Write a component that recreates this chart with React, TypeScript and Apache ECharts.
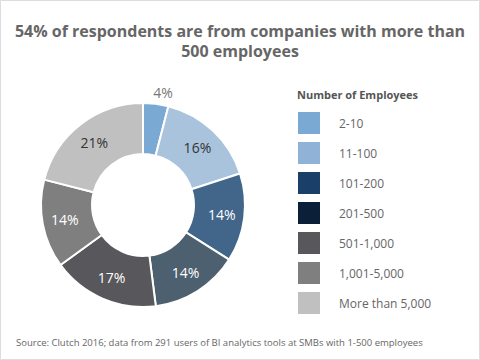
import React, { useEffect, useRef } from "react";
import * as echarts from "echarts";

const categories = ["2-10", "11-100", "101-200", "201-500", "501-1,000", "1,001-5,000", "More than 5,000"];
const values = [4, 16, 14, 14, 17, 14, 21];
const sliceColors = ["#7aa9d4", "#a9c3dc", "#42668a", "#4d6070", "#58575b", "#7f7f7f", "#c0c0c0"];
const legendColors = ["#7aa9d4", "#8fb2d6", "#1a3f69", "#0b1f38", "#58575c", "#7f7f7f", "#c0c0c0"];
const labelColors = ["#777777", "#333333", "#ffffff", "#ffffff", "#ffffff", "#ffffff", "#333333"];

const FONT = "'Open Sans', sans-serif";

export default function App() {
  const ref = useRef<HTMLDivElement>(null);
  useEffect(() => {
    document.body.style.margin = "0";
    const chart = echarts.init(ref.current!, null, { renderer: "svg" });
    chart.setOption({
      animation: false,
      backgroundColor: "#ffffff",
      title: [
        {
          text: "54% of respondents are from companies with more than\n500 employees",
          left: 240,
          top: 21,
          padding: 0,
          textAlign: "center",
          textStyle: { fontFamily: FONT, fontSize: 16, fontWeight: "bold", color: "#666666", lineHeight: 20 },
        },
        {
          text: "Number of Employees",
          left: 297,
          top: 89,
          padding: 0,
          textStyle: { fontFamily: FONT, fontSize: 11, fontWeight: "bold", color: "#555555" },
        },
        {
          text: "Source: Clutch 2016; data from 291 users of BI analytics tools at SMBs with 1-500 employees",
          left: 16,
          top: 337,
          padding: 0,
          textStyle: { fontFamily: FONT, fontSize: 9.5, fontWeight: "normal", color: "#666666" },
        },
      ],
      graphic: [
        {
          type: "rect",
          shape: { x: 0.5, y: 0.5, width: 479, height: 359 },
          style: { fill: "none", stroke: "#dddddd", lineWidth: 1 },
          silent: true,
        },
      ],
      legend: {
        orient: "vertical",
        left: 296,
        top: 110,
        padding: 0,
        itemWidth: 24,
        itemHeight: 24,
        itemGap: 4,
        icon: "rect",
        selectedMode: false,
        textStyle: { fontFamily: FONT, fontSize: 12, color: "#666666", padding: [0, 0, 0, 13] },
        data: categories.map((c, i) => ({ name: c, itemStyle: { color: legendColors[i] } })),
      },
      series: [
        {
          type: "pie",
          center: [143, 205],
          radius: [51, 102],
          startAngle: 90,
          clockwise: true,
          avoidLabelOverlap: false,
          itemStyle: { borderColor: "#ffffff", borderWidth: 2 },
          label: {
            position: "inside",
            formatter: "{c}%",
            fontFamily: FONT,
            fontSize: 14,
          },
          labelLine: { show: false },
          labelLayout: (p: any) => (p.dataIndex === 0 ? { dx: -9 } : {}),
          data: categories.map((c, i) => ({
            name: c,
            value: values[i],
            itemStyle: { color: sliceColors[i] },
            label:
              i === 0
                ? { position: "outside", color: labelColors[i] }
                : { color: labelColors[i] },
            labelLine: i === 0 ? { show: false, length: 11, length2: 0 } : undefined,
          })),
        },
      ],
    });
    return () => chart.dispose();
  }, []);
  return <div ref={ref} style={{ width: 480, height: 360 }} />;
}
